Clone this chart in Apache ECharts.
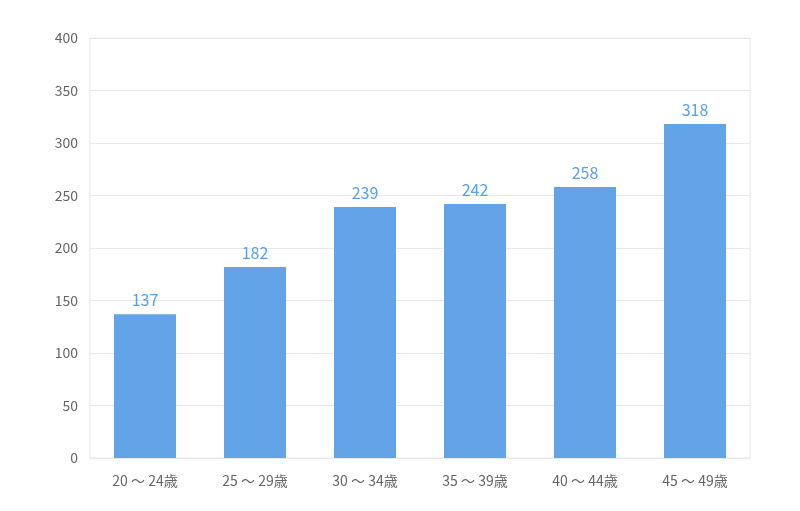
<!DOCTYPE html>
<html><head><meta charset="utf-8">
<script src="https://cdn.jsdelivr.net/npm/echarts@6/dist/echarts.min.js"></script>
<style>html,body{margin:0;padding:0;background:#fff}#c{width:800px;height:511px}</style>
</head><body><div id="c"></div>
<script>
const categories = ['20 〜 24歳','25 〜 29歳','30 〜 34歳','35 〜 39歳','40 〜 44歳','45 〜 49歳'];
const values = [137,182,239,242,258,318];
const font = '"Noto Sans CJK JP","Noto Sans",sans-serif';
const chart = echarts.init(document.getElementById('c'));
chart.setOption({
  animation:false,
  grid:{left:90,right:50,top:38,bottom:53,show:true,borderColor:'#e6e6e6',borderWidth:1},
  xAxis:{type:'category',data:categories,
    axisLine:{show:false},axisTick:{show:false},
    axisLabel:{color:'#666',fontSize:14,fontFamily:font,margin:16}},
  yAxis:{type:'value',min:0,max:400,interval:50,
    axisLine:{show:false},axisTick:{show:false},
    splitLine:{lineStyle:{color:'#e8e8e8'}},
    axisLabel:{color:'#666',fontSize:14,fontFamily:font,margin:12,align:'right'}},
  series:[{type:'bar',data:values,barWidth:62,
    itemStyle:{color:'#63a4e8'},
    label:{show:true,position:'top',color:'#5aa0e6',fontSize:16,fontFamily:font,distance:6}}]
});
</script></body></html>
